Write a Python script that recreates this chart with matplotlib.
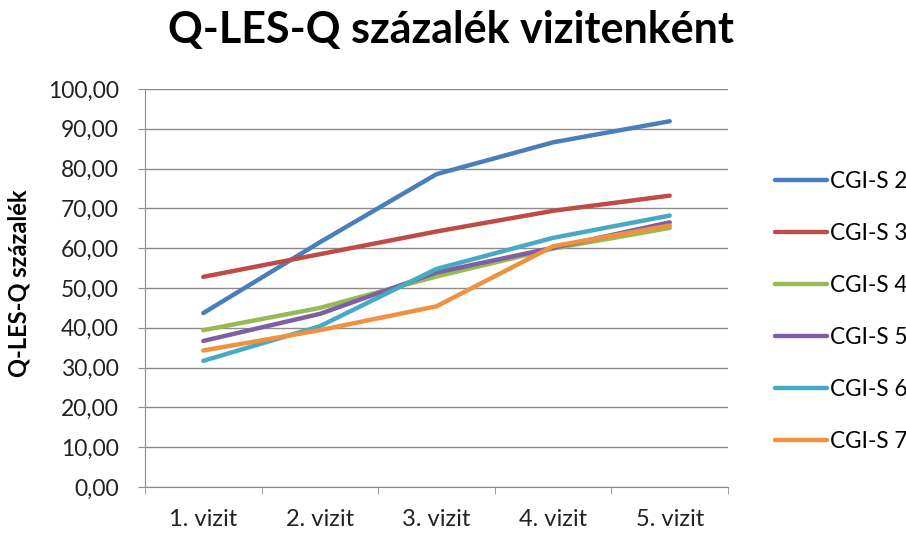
import matplotlib
matplotlib.use("Agg")
import matplotlib.pyplot as plt
from matplotlib.ticker import FuncFormatter, FixedLocator

plt.rcParams['font.family'] = ['Lato', 'DejaVu Sans']

visits = ["1. vizit", "2. vizit", "3. vizit", "4. vizit", "5. vizit"]
series_names = ["CGI-S 2", "CGI-S 3", "CGI-S 4", "CGI-S 5", "CGI-S 6", "CGI-S 7"]
cgi2 = [43.7, 61.5, 78.6, 86.6, 91.9]
cgi3 = [52.8, 58.5, 64.2, 69.4, 73.2]
cgi4 = [39.4, 45.0, 52.9, 59.9, 65.1]
cgi5 = [36.7, 43.5, 53.9, 60.1, 66.5]
cgi6 = [31.7, 40.4, 54.8, 62.6, 68.2]
cgi7 = [34.3, 39.4, 45.4, 60.5, 65.7]
colors = ["#4A7EBB", "#BE4B48", "#98B954", "#7D60A0", "#46AAC5", "#F0913F"]

fig = plt.figure(figsize=(9.06, 5.35), dpi=100)
ax = fig.add_axes([145 / 906, 1 - 487 / 535, (728 - 145) / 906, (487 - 89) / 535])

x = list(range(len(visits)))
for vals, name, c in zip([cgi2, cgi3, cgi4, cgi5, cgi6, cgi7], series_names, colors):
    ax.plot(x, vals, color=c, lw=3.2, label=name, solid_capstyle="round")

ax.set_xlim(-0.5, len(visits) - 0.5)
ax.set_ylim(0, 100)
ax.set_yticks(range(0, 101, 10))
ax.yaxis.set_major_formatter(FuncFormatter(lambda v, p: f"{v:.2f}".replace(".", ",")))
ax.grid(axis="y", color="#8C8C8C", lw=1)
ax.set_axisbelow(True)

ax.set_xticks(x)
ax.set_xticklabels(visits)
ax.tick_params(axis="x", which="major", length=0, pad=16, labelsize=17)
ax.xaxis.set_minor_locator(FixedLocator([i - 0.5 for i in range(len(visits) + 1)]))
ax.tick_params(axis="x", which="minor", length=5, color="#8C8C8C", direction="out")
ax.tick_params(axis="y", length=5, color="#8C8C8C", labelsize=16.5, pad=14)
for lbl in ax.get_xticklabels() + ax.get_yticklabels():
    lbl.set_color("#222222")

for s in ["top", "right"]:
    ax.spines[s].set_visible(False)
for s in ["left", "bottom"]:
    ax.spines[s].set_color("#8C8C8C")

ax.set_ylabel("Q-LES-Q százalék", fontsize=17, fontweight="bold")
ax.yaxis.set_label_coords(-0.196, 0.511)
fig.text(0.498, 1 - 30 / 535, "Q-LES-Q százalék vizitenként", fontsize=31,
         fontweight="bold", ha="center", va="center")

ax.legend(loc="center left", bbox_to_anchor=(1.045, 0.44), frameon=False, fontsize=16.3,
          handlelength=2.3, handletextpad=0.15, labelspacing=1.37)

fig.savefig("out.png", dpi=100)
